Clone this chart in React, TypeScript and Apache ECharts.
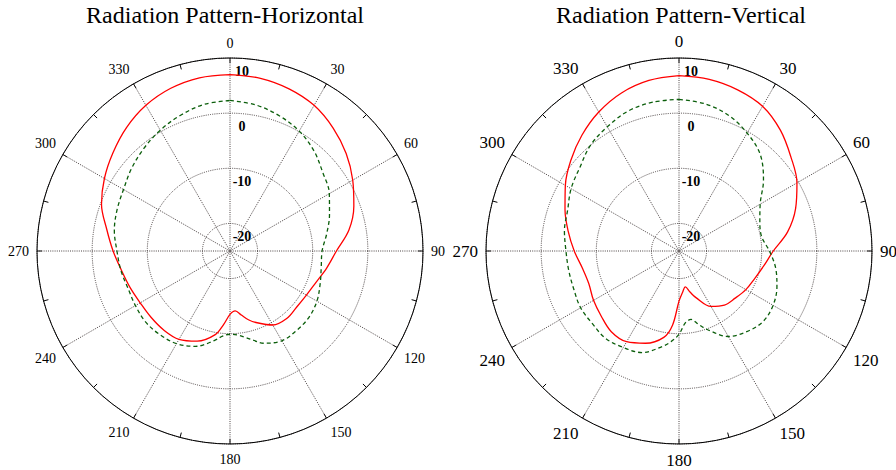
import React, { useEffect, useRef } from "react";
import * as echarts from "echarts";

const ANGLES = [0, 10, 20, 30, 40, 50, 60, 70, 80, 90, 100, 110, 120, 130, 140, 150, 160, 165, 170, 175, 180, 185, 190, 200, 210, 220, 230, 240, 250, 260, 270, 280, 290, 300, 310, 320, 330, 340, 350, 360];

const H_RED = [7.0, 6.8, 6.3, 5.5, 4.1, 2.5, 0.7, -1.1, -3.1, -5.7, -7.2, -8.4, -9.0, -9.2, -9.0, -9.5, -11.2, -12.1, -13.2, -14.1, -13.5, -11.6, -9.6, -7.6, -6.5, -6.3, -6.3, -6.2, -5.7, -5.0, -3.8, -2.3, -0.2, 1.3, 2.7, 4.2, 5.5, 6.4, 6.9, 7.0];
const H_GREEN = [2.3, 1.9, 1.1, 0.1, -1.3, -3.0, -4.2, -5.8, -7.2, -8.3, -8.2, -7.6, -6.8, -6.3, -6.2, -6.2, -7.2, -8.2, -9.1, -9.7, -9.9, -9.5, -8.5, -6.6, -5.6, -5.2, -5.0, -5.2, -5.3, -4.9, -4.5, -3.7, -3.2, -2.7, -1.7, -0.7, 0.3, 1.2, 2.0, 2.3];
const V_RED = [6.8, 6.6, 6.1, 5.3, 3.6, 1.5, -0.3, -2.5, -5.0, -7.9, -9.4, -10.4, -11.0, -11.7, -12.2, -13.4, -16.0, -17.3, -18.4, -17.5, -15.9, -11.5, -9.1, -7.2, -6.0, -5.9, -6.6, -7.1, -7.6, -7.2, -6.0, -4.6, -3.0, -1.2, 0.6, 2.4, 4.1, 5.5, 6.4, 6.8];
const V_GREEN = [2.5, 2.1, 1.2, -0.3, -2.1, -5.0, -8.0, -9.4, -9.8, -8.6, -7.2, -6.1, -5.3, -5.1, -5.9, -7.1, -9.8, -11.2, -12.4, -11.9, -9.9, -8.5, -7.4, -5.4, -4.8, -4.3, -4.5, -4.4, -4.7, -4.7, -4.5, -3.9, -3.5, -2.4, -1.5, 0.0, 1.0, 2.0, 2.4, 2.5];

const TITLES = ["Radiation Pattern-Horizontal", "Radiation Pattern-Vertical"];
const R_MIN = -25;
const R_MAX = 10;

const FONT = "'Liberation Serif', 'Times New Roman', serif";
const GRID_COLOR = "#4a4242";

function pairs(vals: number[]) {
  return vals.map((v, i) => [v, ANGLES[i]]);
}

export default function App() {
  const ref = useRef<HTMLDivElement>(null);
  useEffect(() => {
    if (!ref.current) return;
    const chart = echarts.init(ref.current, null, { renderer: "svg" });
    const centers = [[230, 251], [679, 251]];
    const angleFont = [14, 17];
    const polar = centers.map((c) => ({ center: c, radius: 193 }));
    const angleAxis = centers.map((_, i) => ({
      polarIndex: i,
      type: "value",
      min: 0,
      max: 360,
      interval: 30,
      startAngle: 90,
      clockwise: true,
      axisLine: { show: true, lineStyle: { color: "#000", width: 1 } },
      axisTick: { show: true, inside: true, length: 5, lineStyle: { color: "#000" } },
      minorTick: { show: true, splitNumber: 2, length: 5, lineStyle: { color: "#000" } },
      axisLabel: {
        margin: 8,
        color: "#000",
        fontFamily: FONT,
        fontSize: angleFont[i],
        formatter: (v: number) => (v >= 360 ? "" : String(v)),
      },
      splitLine: { show: true, lineStyle: { color: GRID_COLOR, width: 1, type: [1, 1.2] } },
    }));
    const radiusAxis = centers.map((_, i) => ({
      polarIndex: i,
      type: "value",
      min: R_MIN,
      max: R_MAX,
      splitNumber: 4,
      axisLine: { show: false },
      axisTick: { show: false },
      axisLabel: {
        margin: -12,
        align: "center",
        verticalAlign: "top",
        lineHeight: 26,
        color: "#000",
        fontFamily: FONT,
        fontWeight: "bold",
        fontSize: 14,
        formatter: (v: number) => (v <= R_MIN ? "" : String(v)),
      },
      splitLine: { show: true, lineStyle: { color: GRID_COLOR, width: 1, type: [1, 1.2] } },
    }));
    const seriesDefs = [
      { data: H_RED, p: 0, color: "#ff0000", dashed: false },
      { data: H_GREEN, p: 0, color: "#0b5e0b", dashed: true },
      { data: V_RED, p: 1, color: "#ff0000", dashed: false },
      { data: V_GREEN, p: 1, color: "#0b5e0b", dashed: true },
    ];
    const titleStyle = { fontFamily: FONT, fontSize: 24, fontWeight: "normal", color: "#000" };
    chart.setOption({
      animation: false,
      backgroundColor: "#fff",
      title: [
        { text: TITLES[0], left: 225, top: 3, padding: 0, textAlign: "center", textStyle: titleStyle },
        { text: TITLES[1], left: 681, top: 3, padding: 0, textAlign: "center", textStyle: titleStyle },
      ],
      polar,
      angleAxis,
      radiusAxis,
      series: seriesDefs.map((s) => ({
        type: "line",
        coordinateSystem: "polar",
        polarIndex: s.p,
        data: pairs(s.data),
        smooth: 0.35,
        symbol: "none",
        lineStyle: { color: s.color, width: 1.3, type: s.dashed ? [4, 3] : "solid" },
        z: 5,
      })),
    });
    return () => chart.dispose();
  }, []);
  return <div ref={ref} style={{ position: "fixed", left: 0, top: 0, width: 896, height: 470 }} />;
}
